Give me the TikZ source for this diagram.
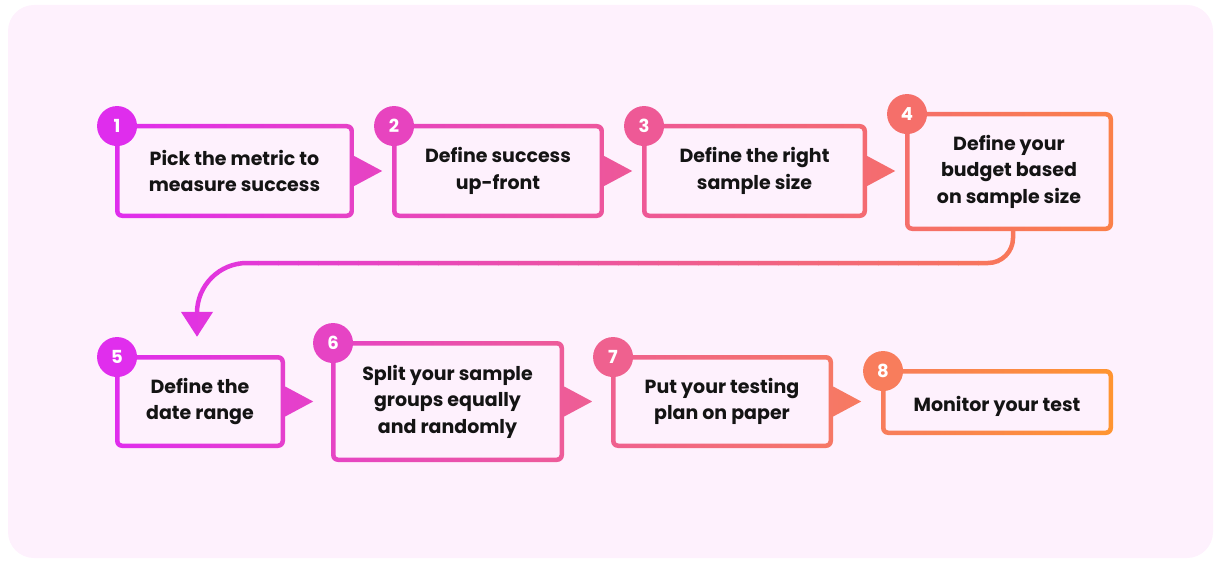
\documentclass[tikz,border=0pt]{standalone}
\usepackage{fontspec}
\setmainfont{Poppins}
\usetikzlibrary{arrows.meta}

\definecolor{bgpink}{HTML}{FEF1FD}
\definecolor{ink}{HTML}{141414}
\definecolor{gA}{HTML}{DF2CF0}
\definecolor{gB}{HTML}{FB8048}
\definecolor{gC}{HTML}{FF9530}

\newcommand{\gradcol}[3]{%
  \pgfmathsetmacro{\gradp}{max(0,min(100,(1115-(#2))/10.15))}%
  \colorlet{#1}{gA!\gradp!#3}}

\newcommand{\flowstep}[8]{%
  \gradcol{#1L}{#2-#4/2}{#8}%
  \gradcol{#1R}{#2+#4/2}{#8}%
  \gradcol{#1T}{#2+#4/2+28}{#8}%
  \gradcol{#1C}{#2-#4/2+2}{#8}%
  \node[stepbox, left color=#1L, right color=#1R,
        minimum width=#4pt, minimum height=#5pt] (#1) at (#2,#3) {#7};
  \node[stepnum, fill=#1C] (#1num) at ([shift={(2.25pt,-2.25pt)}]#1.north west) {#6};
}

\newcommand{\flowtip}[1]{%
  \shade[left color=#1R, right color=#1T] ([yshift=15pt]#1.east) -- ([xshift=28pt]#1.east) -- ([yshift=-15pt]#1.east) -- cycle;
}

\begin{document}
\begin{tikzpicture}[x=1pt, y=-1pt,
    stepbox/.style={rounded corners=7pt, inner sep=0pt, align=center, text=ink,
      font=\bfseries\fontsize{19}{26.5}\selectfont,
      execute at begin node={\rule{0pt}{25pt}},
      path picture={\fill[bgpink, rounded corners=3pt]
        ([shift={(4.5pt,-4.5pt)}]path picture bounding box.north west) rectangle
        ([shift={(-4.5pt,4.5pt)}]path picture bounding box.south east);}},
    stepnum/.style={circle, minimum size=40pt, inner sep=0pt, text=white,
      font=\bfseries\fontsize{18}{20}\selectfont},
    flowline/.style={line width=4.5pt, -{Triangle[length=25pt,width=31pt]}}]
  \useasboundingbox (0,0) rectangle (1220,564);
  \fill[bgpink, rounded corners=26pt] (8,5) rectangle (1213,558);

  % first row
  \flowstep{s1}{234.5}{171}{239}{94}{1}{Pick the metric to\\measure success}{gB}
  \flowstep{s2}{498}{171}{212}{94}{2}{Define success\\up-front}{gB}
  \flowstep{s3}{754.5}{171}{225}{94}{3}{Define the right\\sample size}{gB}
  \flowstep{s4}{1009}{171.5}{208}{119}{4}{Define your\\budget based\\on sample size}{gB}
  \flowtip{s1}
  \flowtip{s2}
  \flowtip{s3}

  % second row
  \flowstep{s5}{200}{401.5}{170}{93}{5}{Define the\\date range}{gC}
  \flowstep{s6}{447.5}{401.5}{233}{121}{6}{Split your sample\\groups equally\\and randomly}{gC}
  \flowstep{s7}{722}{401.5}{222}{93}{7}{Put your testing\\plan on paper}{gC}
  \flowstep{s8}{997}{402}{232}{66}{8}{Monitor your test}{gC}
  \flowtip{s5}
  \flowtip{s6}
  \flowtip{s7}

  % turn from row one to row two
  \coordinate (a4) at ([xshift=4pt]s4.south);
  \coordinate (a5) at ([shift={(-3pt,18pt)}]s5.north);
  \foreach \i in {0,...,42} {
    \pgfmathsetmacro{\xa}{178+20*\i}
    \gradcol{stripc}{\xa+10}{gB}
    \begin{scope}
      \clip (\xa,225) rectangle (\xa+20.6,345);
      \draw[flowline, stripc] (a4) -- (1013,238)
        .. controls (1013,251.8) and (1001.8,263) .. (988,263) -- (247,263)
        .. controls (219.4,263) and (197,285.4) .. (197,313) -- (a5);
    \end{scope}
  }
\end{tikzpicture}
\end{document}
